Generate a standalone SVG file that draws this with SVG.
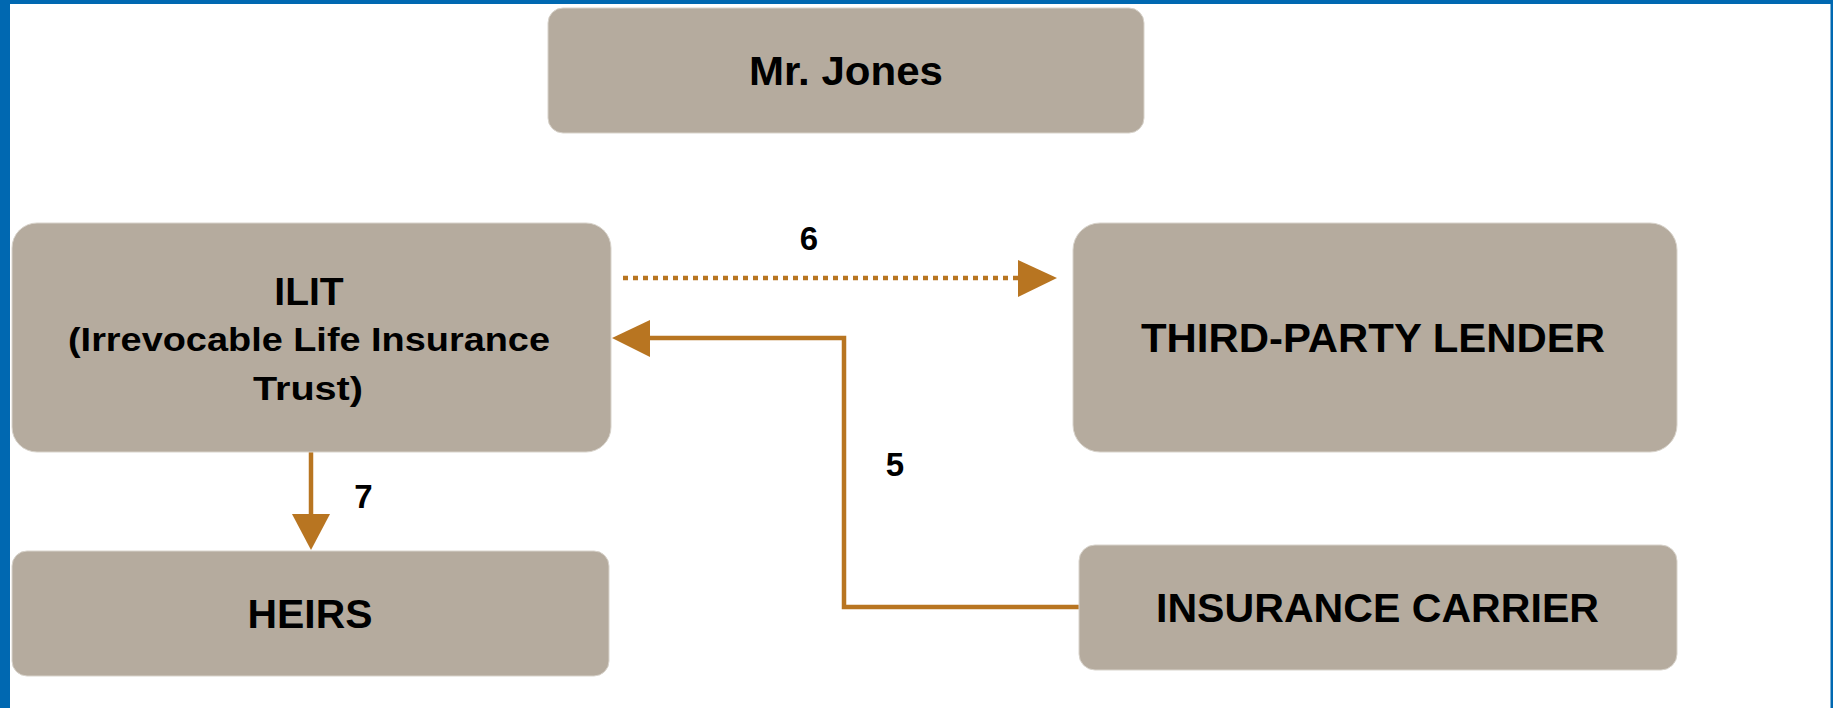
<svg xmlns="http://www.w3.org/2000/svg" width="1833" height="708" viewBox="0 0 1833 708">
<style>
.node{fill:#b5ab9e;stroke:#d8d3cb;stroke-width:1}
.lbl{font-family:"Liberation Sans",Arial,sans-serif;font-weight:bold;fill:#000;text-anchor:middle}
.big{font-size:41px}
.small{font-size:33px}
.num{font-family:"Liberation Sans",Arial,sans-serif;font-weight:bold;fill:#000;font-size:33px;text-anchor:middle}
.conn{fill:none;stroke:#b87521;stroke-width:4.5}
.head{fill:#b87521}
</style>
<rect x="0" y="0" width="1833" height="708" fill="#ffffff"/>
<g id="frame">
<rect x="0" y="0" width="10" height="708" fill="#0068b1"/>
<rect x="0" y="0" width="1833" height="4" fill="#0068b1"/>
<rect x="1830.5" y="0" width="2.5" height="708" fill="#0068b1"/>
</g>
<g id="connectors">
<line class="conn" x1="623" y1="278" x2="1018" y2="278" stroke-width="5" stroke-dasharray="5 5"/>
<polygon class="head" points="1018,260 1057,278 1018,297"/>
<polyline class="conn" points="1079,607 844,607 844,338 648,338"/>
<polygon class="head" points="650,320 612,338 650,357"/>
<line class="conn" x1="311" y1="452" x2="311" y2="515"/>
<polygon class="head" points="292,514 330,514 311,550"/>
<text class="num" x="809" y="250">6</text>
<text class="num" x="895" y="476">5</text>
<text class="num" x="363.5" y="508">7</text>
</g>
<g id="mr-jones">
<rect class="node" x="548" y="8" width="596" height="125" rx="15"/>
<text class="lbl big" x="846" y="85" textLength="194" lengthAdjust="spacingAndGlyphs">Mr. Jones</text>
</g>
<g id="ilit">
<rect class="node" x="12" y="223" width="599" height="229" rx="25"/>
<text class="lbl" x="309" y="305" font-size="39">ILIT</text>
<text class="lbl small" x="309" y="351" textLength="482" lengthAdjust="spacingAndGlyphs">(Irrevocable Life Insurance</text>
<text class="lbl small" x="308" y="400" textLength="110" lengthAdjust="spacingAndGlyphs">Trust)</text>
</g>
<g id="third-party-lender">
<rect class="node" x="1073" y="223" width="604" height="229" rx="27"/>
<text class="lbl big" x="1373" y="352" textLength="464" lengthAdjust="spacingAndGlyphs">THIRD-PARTY LENDER</text>
</g>
<g id="heirs">
<rect class="node" x="12" y="551" width="597" height="125" rx="15"/>
<text class="lbl big" x="310" y="628" textLength="125" lengthAdjust="spacingAndGlyphs">HEIRS</text>
</g>
<g id="insurance-carrier">
<rect class="node" x="1079" y="545" width="598" height="125" rx="16"/>
<text class="lbl big" x="1377.5" y="622" textLength="443" lengthAdjust="spacingAndGlyphs">INSURANCE CARRIER</text>
</g>
</svg>
